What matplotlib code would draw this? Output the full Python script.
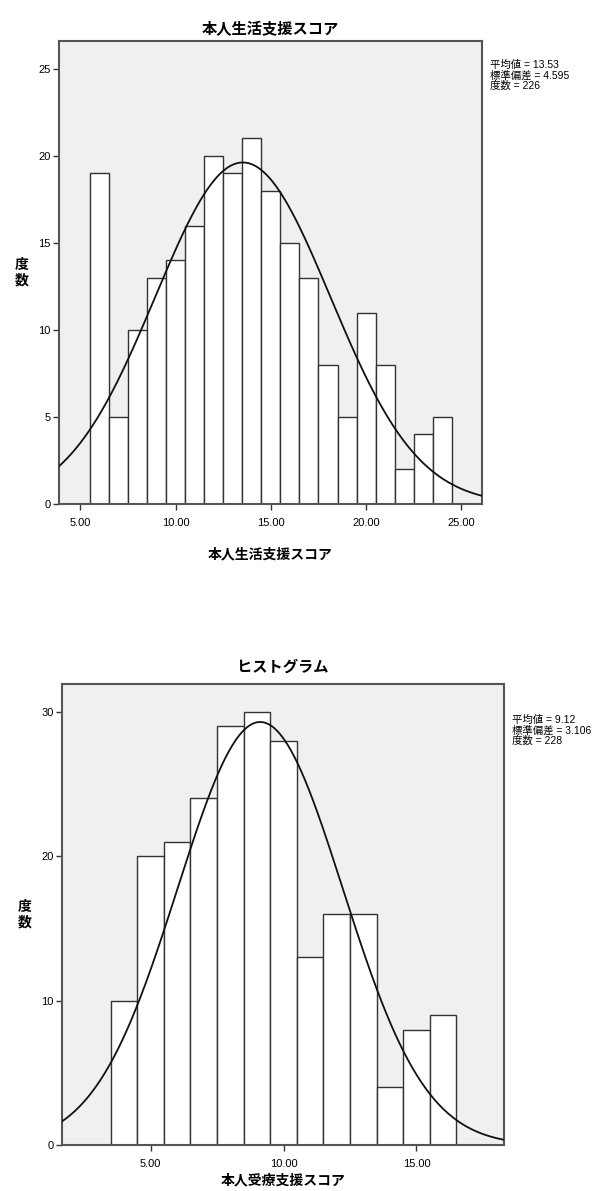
import numpy as np
import matplotlib
matplotlib.use("Agg")
import matplotlib.pyplot as plt

plt.rcParams['font.family'] = ['Liberation Sans', 'Noto Sans CJK JP', 'DejaVu Sans']

# 本人生活支援スコア
life_scores = [6, 7, 8, 9, 10, 11, 12, 13, 14, 15, 16, 17, 18, 19, 20, 21, 22, 23, 24]
life_counts = [19, 5, 10, 13, 14, 16, 20, 19, 21, 18, 15, 13, 8, 5, 11, 8, 2, 4, 5]
life_mean, life_sd, life_n = 13.53, 4.595, 226

# 本人受療支援スコア
care_scores = [4, 5, 6, 7, 8, 9, 10, 11, 12, 13, 14, 15, 16]
care_counts = [10, 20, 21, 24, 29, 30, 28, 13, 16, 16, 4, 8, 9]
care_mean, care_sd, care_n = 9.12, 3.106, 228

W, H = 613, 1191
fig = plt.figure(figsize=(W / 100, H / 100), dpi=100)


def px(x0, y0, x1, y1):
    return [x0 / W, 1 - y1 / H, (x1 - x0) / W, (y1 - y0) / H]


def hist_panel(rect, scores, counts, mean, sd, n, xlim, ylim, yticks,
               title, xlabel, stats_xy, xlabelpad, titlepad):
    ax = fig.add_axes(rect)
    ax.set_facecolor('#f0f0f0')
    ax.bar(scores, counts, width=1.0, color='white', edgecolor='#333333',
           linewidth=1.0, zorder=2)
    xs = np.linspace(xlim[0], xlim[1], 400)
    ys = n / (sd * np.sqrt(2 * np.pi)) * np.exp(-0.5 * ((xs - mean) / sd) ** 2)
    ax.plot(xs, ys, color='#111111', lw=1.3, zorder=3)
    ax.set_xlim(*xlim)
    ax.set_ylim(*ylim)
    ax.set_yticks(yticks)
    ax.set_yticklabels([str(t) for t in yticks])
    xt = [t for t in [5, 10, 15, 20, 25] if xlim[0] < t < xlim[1]]
    ax.set_xticks(xt)
    ax.set_xticklabels([f"{t:.2f}" for t in xt])
    ax.tick_params(axis='both', direction='out', length=4, width=1,
                   color='#333333', labelsize=8, pad=2)
    ax.tick_params(axis='x', pad=6)
    for s in ax.spines.values():
        s.set_color('#555555')
        s.set_linewidth(1.5)
    ax.set_title(title, fontsize=11, fontweight='bold', pad=titlepad)
    ax.set_xlabel(xlabel, fontsize=10, fontweight='bold', labelpad=xlabelpad)
    ax.set_ylabel('度\n数', fontsize=10, fontweight='bold', rotation=0,
                  va='center', labelpad=12, linespacing=1.1)
    fig.text(stats_xy[0] / W, 1 - stats_xy[1] / H,
             f"平均値 = {mean}\n標準偏差 = {sd}\n度数 = {n}",
             fontsize=7.5, va='top', ha='left', linespacing=1.0)
    return ax


hist_panel(px(58.7, 41, 482, 504), life_scores, life_counts,
           life_mean, life_sd, life_n, (3.87, 26.08), (0, 26.6),
           [0, 5, 10, 15, 20, 25], '本人生活支援スコア', '本人生活支援スコア',
           (490, 60), 14, 5)

hist_panel(px(61.8, 684.2, 503.7, 1145.2), care_scores, care_counts,
           care_mean, care_sd, care_n, (1.66, 18.28), (0, 31.9),
           [0, 10, 20, 30], 'ヒストグラム', '本人受療支援スコア',
           (512, 715), 3, 9)

fig.savefig('out.png', dpi=100)
